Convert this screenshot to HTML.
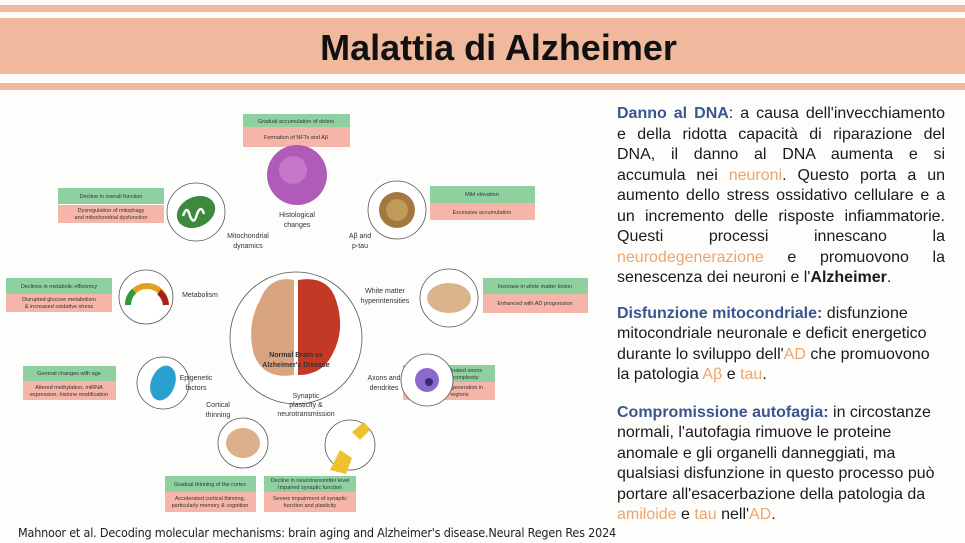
<!DOCTYPE html>
<html><head><meta charset="utf-8"><style>
body{margin:0;width:965px;height:543px;background:#fdfdfc;position:relative;overflow:hidden;font-family:"Liberation Sans",sans-serif}
.b{position:absolute;left:0;width:965px;background:#f0b99d}
#t{position:absolute;top:18px;height:56px;left:16px;width:965px;line-height:60px;text-align:center;font-size:36px;font-weight:bold;color:#111}
#txt{position:absolute;left:617px;width:328px;top:104px;font-size:16px;line-height:20.5px;color:#1a1a1a}
.p{margin:0 0 15px 0}
.l{text-align:justify;text-align-last:justify;white-space:nowrap}
.h{color:#3a5590;font-weight:bold}.o{color:#eda56e}
#cit{position:absolute;left:18px;top:525px;font-size:12.5px;color:#222;font-family:"DejaVu Sans Condensed","DejaVu Sans",sans-serif;letter-spacing:-0.2px}
</style></head><body>
<div class="b" style="top:5px;height:7px"></div>
<div class="b" style="top:18px;height:56px"></div>
<div class="b" style="top:83px;height:7px"></div>
<div id="t">Malattia di Alzheimer</div>
<svg style="position:absolute;left:0;top:95px" width="600" height="425" viewBox="0 95 600 425" font-family="Liberation Sans,sans-serif">
<g font-size="5.5" fill="#333" text-anchor="middle">
<rect x="243" y="114" width="107" height="13" fill="#8fd0a0"/><rect x="243" y="127" width="107" height="20" fill="#f5b5a8"/>
<text x="296" y="123">Gradual accumulation of debris</text><text x="296" y="139">Formation of NFTs and Aβ</text>
<rect x="58" y="188" width="106" height="16" fill="#8fd0a0"/><rect x="58" y="205" width="106" height="18" fill="#f5b5a8"/>
<text x="111" y="198">Decline in overall function</text><text x="111" y="212">Dysregulation of mitophagy</text><text x="111" y="219">and mitochondrial dysfunction</text>
<rect x="430" y="186" width="105" height="17" fill="#8fd0a0"/><rect x="430" y="203" width="105" height="17" fill="#f5b5a8"/>
<text x="482" y="196">Mild elevation</text><text x="482" y="214">Excessive accumulation</text>
<rect x="6" y="278" width="106" height="16" fill="#8fd0a0"/><rect x="6" y="294" width="106" height="18" fill="#f5b5a8"/>
<text x="59" y="288">Declines in metabolic efficiency</text><text x="59" y="301">Disrupted glucose metabolism</text><text x="59" y="308">&amp; increased oxidative stress</text>
<rect x="483" y="278" width="105" height="16" fill="#8fd0a0"/><rect x="483" y="294" width="105" height="19" fill="#f5b5a8"/>
<text x="535" y="288">Increase in white matter lesion</text><text x="535" y="305">Enhanced with AD progression</text>
<rect x="23" y="366" width="93" height="15" fill="#8fd0a0"/><rect x="23" y="381" width="93" height="19" fill="#f5b5a8"/>
<text x="69" y="375">General changes with age</text><text x="69" y="389">Altered methylation, miRNA</text><text x="69" y="396">expression, histone modification</text>
<rect x="403" y="365" width="92" height="17" fill="#8fd0a0"/><rect x="403" y="382" width="92" height="18" fill="#f5b5a8"/>
<text x="449" y="372">Reduced myelinated axons</text><text x="449" y="379">and dendritic complexity</text><text x="449" y="389">Accelerated degeneration in</text><text x="449" y="396">affected regions</text>
<rect x="165" y="476" width="91" height="16" fill="#8fd0a0"/><rect x="165" y="492" width="91" height="20" fill="#f5b5a8"/>
<text x="210" y="486">Gradual thinning of the cortex</text><text x="210" y="500">Accelerated cortical thinning,</text><text x="210" y="507">particularly memory &amp; cognition</text>
<rect x="264" y="476" width="92" height="16" fill="#8fd0a0"/><rect x="264" y="492" width="92" height="20" fill="#f5b5a8"/>
<text x="310" y="482">Decline in neurotransmitter level</text><text x="310" y="489">Impaired synaptic function</text><text x="310" y="500">Severe impairment of synaptic</text><text x="310" y="507">function and plasticity</text>
</g>
<g fill="#fff" stroke="#555" stroke-width="0.8">
<circle cx="196" cy="212" r="29"/><circle cx="397" cy="210" r="29"/><circle cx="146" cy="297" r="27"/>
<circle cx="296" cy="338" r="66"/><circle cx="449" cy="298" r="29"/><circle cx="163" cy="383" r="26"/>
<circle cx="427" cy="380" r="26"/><circle cx="243" cy="443" r="25"/><circle cx="350" cy="445" r="25"/>
</g>
<circle cx="297" cy="175" r="30" fill="#b05bb8"/><circle cx="293" cy="170" r="14" fill="#d38bd6" opacity=".6"/>
<ellipse cx="196" cy="212" rx="20" ry="15" fill="#3d8a3f" transform="rotate(-25 196 212)"/>
<path d="M183 216 q4 -12 7 0 q4 10 7 -2 q4 -10 7 0" stroke="#fff" stroke-width="2.5" fill="none"/>
<circle cx="397" cy="210" r="18" fill="#a07840"/><circle cx="397" cy="210" r="11" fill="#c09a5a"/>
<path d="M128 305 a19 19 0 0 1 38 0" stroke="#e0a020" stroke-width="6" fill="none"/>
<path d="M128 305 a19 19 0 0 1 6 -14" stroke="#2e9a3a" stroke-width="6" fill="none"/>
<path d="M159 292 a19 19 0 0 1 7 13" stroke="#a52020" stroke-width="6" fill="none"/>
<path d="M260 300 q10 -25 34 -20 l0 95 q-30 5 -40 -20 q-8 -30 6 -55z" fill="#d8a580"/>
<path d="M298 280 q30 -5 38 20 q10 30 -4 55 q-10 20 -34 20z" fill="#c23a25"/>
<ellipse cx="449" cy="298" rx="22" ry="15" fill="#dcb48c"/>
<ellipse cx="163" cy="383" rx="12" ry="18" fill="#2aa0cf" transform="rotate(20 163 383)"/>
<circle cx="427" cy="380" r="12" fill="#8a6bcc"/><circle cx="429" cy="382" r="4" fill="#3a2870"/>
<ellipse cx="243" cy="443" rx="17" ry="15" fill="#dcb08a"/>
<path d="M352 432 l12 -10 l6 8 l-10 10z M330 470 l10 -20 l12 8 l-6 16z" fill="#f0c030"/>
<g font-size="7" fill="#333" text-anchor="middle">
<text x="297" y="217">Histological</text><text x="297" y="227">changes</text>
<text x="248" y="238">Mitochondrial</text><text x="248" y="248">dynamics</text>
<text x="360" y="238">Aβ and</text><text x="360" y="248">p-tau</text>
<text x="200" y="297">Metabolism</text>
<text x="385" y="293">White matter</text><text x="385" y="303">hyperintensities</text>
<text x="196" y="380">Epigenetic</text><text x="196" y="390">factors</text>
<text x="384" y="380">Axons and</text><text x="384" y="390">dendrites</text>
<text x="218" y="407">Cortical</text><text x="218" y="417">thinning</text>
<text x="306" y="398">Synaptic</text><text x="306" y="407">plasticity &amp;</text><text x="306" y="416">neurotransmission</text>
<text x="296" y="357" font-weight="bold" font-size="7">Normal Brain vs</text><text x="296" y="367" font-weight="bold" font-size="7">Alzheimer's Disease</text>
</g>
</svg>
<div id="txt">
<div class="p">
<div class="l"><span class="h">Danno al DNA</span>: a causa dell'invecchiamento</div>
<div class="l">e della ridotta capacità di riparazione del</div>
<div class="l">DNA, il danno al DNA aumenta e si</div>
<div class="l">accumula nei <span class="o">neuroni</span>. Questo porta a un</div>
<div class="l">aumento dello stress ossidativo cellulare e a</div>
<div class="l">un incremento delle risposte infiammatorie.</div>
<div class="l">Questi processi innescano la</div>
<div class="l"><span class="o">neurodegenerazione</span> e promuovono la</div>
<div>senescenza dei neuroni e l'<b>Alzheimer</b>.</div>
</div>
<div class="p" style="margin-bottom:17px"><span class="h">Disfunzione mitocondriale:</span> disfunzione mitocondriale neuronale e deficit energetico durante lo sviluppo dell'<span class="o">AD</span> che promuovono la patologia <span class="o">Aβ</span> e <span class="o">tau</span>.</div>
<div class="p"><span class="h">Compromissione autofagia:</span> in circostanze normali, l'autofagia rimuove le proteine anomale e gli organelli danneggiati, ma qualsiasi disfunzione in questo processo può portare all'esacerbazione della patologia da <span class="o">amiloide</span> e <span class="o">tau</span> nell'<span class="o">AD</span>.</div>
</div>
<div id="cit">Mahnoor et al. Decoding molecular mechanisms: brain aging and Alzheimer's disease.Neural Regen Res 2024</div>
</body></html>
